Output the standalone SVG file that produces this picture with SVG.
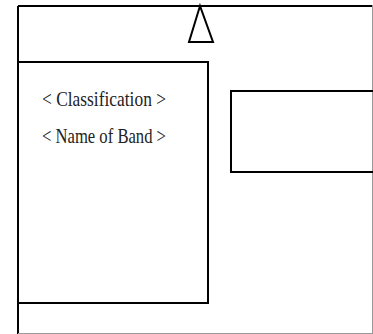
<svg xmlns="http://www.w3.org/2000/svg" width="373" height="334" viewBox="0 0 373 334">
<style>
.ln{fill:none;stroke:#000;stroke-width:2}
.lbl{font-family:"Liberation Serif","Times New Roman",serif;font-size:21px;fill:#222}
</style>
<rect x="0" y="0" width="373" height="334" fill="#fff"/>
<g id="connectors">
<line class="ln" x1="18" y1="6" x2="373" y2="6"/>
<line class="ln" x1="18" y1="6" x2="18" y2="334"/>
<line x1="372.5" y1="5" x2="372.5" y2="334" stroke="#999" stroke-width="1"/>
<line x1="18" y1="333.5" x2="373" y2="333.5" stroke="#999" stroke-width="1"/>
<polygon class="ln" points="200,6 189,42 213,42" fill="#fff"/>
</g>
<g id="node-band">
<rect class="ln" x="18" y="62" width="190" height="241"/>
<text class="lbl" x="42" y="106" textLength="124" lengthAdjust="spacingAndGlyphs">&lt; Classification &gt;</text>
<text class="lbl" x="42" y="143" textLength="124" lengthAdjust="spacingAndGlyphs">&lt; Name of Band &gt;</text>
</g>
<g id="node-right">
<rect class="ln" x="231" y="91" width="150" height="81"/>
</g>
</svg>
